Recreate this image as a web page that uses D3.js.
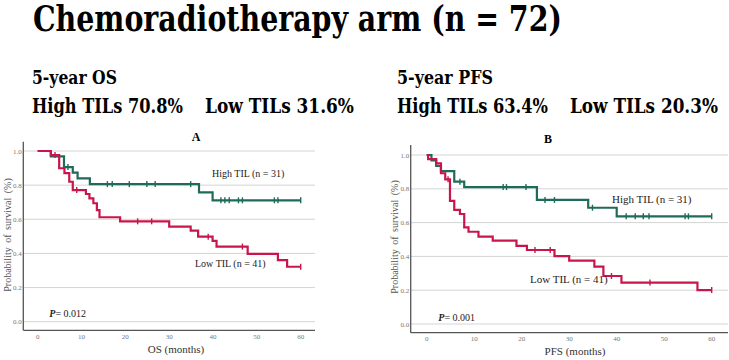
<!DOCTYPE html>
<html>
<head>
<meta charset="utf-8">
<script src="https://cdn.jsdelivr.net/npm/d3@7"></script>
<style>
  body { margin: 0; background: #fff; }
</style>
</head>
<body>
<div id="content"></div>
<script>
// ---- data ----
var yTicks = [0, 0.2, 0.4, 0.6, 0.8, 1.0];
var xTicks = [0, 10, 20, 30, 40, 50, 60];

// panel A: overall survival
var osHighTimes = [0, 3, 6, 8, 9.1, 11.9, 36.8, 39.9, 60];
var osHighSurv  = [1, 0.968, 0.906, 0.873, 0.84, 0.806, 0.758, 0.711, 0.711];
var osHighCensor = [6.9, 15.9, 17, 20.9, 24.9, 26.8, 34.9, 41.8, 42.7, 43.7, 45.8, 46.7, 54, 54.8, 60];

var osLowTimes = [0, 3, 4.9, 6.1, 7.2, 8, 11, 11.8, 12.7, 13.5, 14.1, 18.8, 30, 34.9, 36.6, 39.9, 40.8, 47.9, 54.8, 56.9, 60];
var osLowSurv  = [1, 0.976, 0.899, 0.87, 0.82, 0.771, 0.748, 0.723, 0.694, 0.654, 0.612, 0.588, 0.557, 0.533, 0.498, 0.473, 0.44, 0.397, 0.361, 0.322, 0.322];
var osLowCensor = [3.95, 8.9, 22.8, 26, 38.9, 46.7, 60];

// panel B: progression-free survival
var pfsHighTimes = [0, 1, 2, 3, 5.8, 7.9, 23.2, 34, 40, 60];
var pfsHighSurv  = [1, 0.968, 0.935, 0.905, 0.842, 0.81, 0.734, 0.688, 0.637, 0.637];
var pfsHighCensor = [7, 16.1, 16.8, 20.9, 24.9, 26.9, 34.9, 42, 43.9, 45.6, 46.8, 54.4, 55.1, 60];

var pfsLowTimes = [0, 0.3, 2, 3, 3.9, 4.9, 5.8, 7, 7.9, 8.8, 10.9, 13.9, 18.9, 21.1, 26.9, 30, 35.3, 37.2, 41, 57, 60];
var pfsLowSurv  = [1, 0.976, 0.951, 0.892, 0.856, 0.728, 0.675, 0.651, 0.572, 0.546, 0.517, 0.493, 0.462, 0.438, 0.402, 0.375, 0.339, 0.284, 0.245, 0.201, 0.201];
var pfsLowCensor = [4.5, 22.8, 26, 38.9, 47, 60];

var green = "#1f6b5a", red = "#c8164c";
var serif = "'Liberation Serif', 'Times New Roman', Times, 'DejaVu Serif', serif";
var boldSerif = "'DejaVu Serif Condensed', 'DejaVu Serif', serif";

var svg = d3.select("div#content").append("svg")
    .attr("width", 729)
    .attr("height", 360)
    .attr("font-family", serif)
    .style("font-family", serif)
    .style("display", "block");

// ---- headings ----
// bold serif is wider here than in the figure: shrink the font to the
// wanted width and stretch it back vertically to the wanted height
function heading(x, y, size, w, txt) {
    var t = svg.append("text")
        .attr("font-size", size).attr("font-weight", "bold")
        .attr("font-family", boldSerif).style("font-family", boldSerif)
        .text(txt);
    var natural = t.node().getComputedTextLength();
    var k = Math.min(1, w / natural);
    t.attr("font-size", size * k)
        .attr("transform", "translate(" + x + "," + y + ") scale(1," + (1 / k) + ")");
}
heading(33, 31, 35, 529, "Chemoradiotherapy arm (n = 72)");
heading(32, 84, 18, 85, "5-year OS");
heading(32, 113, 21, 151, "High TILs 70.8%");
heading(205, 113, 21, 149, "Low TILs  31.6%");
heading(397, 84, 18, 96, "5-year PFS");
heading(397, 113, 21, 151, "High TILs 63.4%");
heading(570, 113, 21, 148, "Low TILs  20.3%");

function toPoints(times, surv) {
    return times.map(function(t, i) { return {t: t, s: surv[i]}; });
}

function stepAt(times, surv, t) {
    var v = surv[0];
    for (var i = 0; i < times.length; i++) {
        if (times[i] <= t) v = surv[i];
    }
    return v;
}

function panel(cfg) {
    var g = svg.append("g");

    var x = d3.scaleLinear().domain([0, 60]).range([cfg.x0, cfg.x1]);
    var y = d3.scaleLinear().domain([0, 1]).range([cfg.y0, cfg.y1]);

    // grid
    g.selectAll(".grid")
        .data(yTicks)
        .enter().append("line")
        .attr("x1", cfg.left).attr("x2", cfg.right)
        .attr("y1", function(d) { return y(d); })
        .attr("y2", function(d) { return y(d); })
        .attr("stroke", "#d4d4d4").attr("stroke-width", 1);

    // axes lines
    g.append("line")
        .attr("x1", cfg.left).attr("x2", cfg.left)
        .attr("y1", cfg.top).attr("y2", cfg.bottom)
        .attr("stroke", "#555").attr("stroke-width", 1.3);
    g.append("line")
        .attr("x1", cfg.left).attr("x2", cfg.right)
        .attr("y1", cfg.bottom).attr("y2", cfg.bottom)
        .attr("stroke", "#555").attr("stroke-width", 1.3);

    // tick labels
    g.selectAll(".ylab")
        .data(yTicks)
        .enter().append("text")
        .attr("x", cfg.left - 1.5)
        .attr("y", function(d) { return y(d) + 2.5; })
        .attr("text-anchor", "end")
        .attr("font-size", 7).attr("fill", "#777")
        .text(d3.format(".1f"));
    g.selectAll(".xlab")
        .data(xTicks)
        .enter().append("text")
        .attr("x", function(d) { return x(d); })
        .attr("y", cfg.bottom + 8.5)
        .attr("text-anchor", "middle")
        .attr("font-size", 7).attr("fill", "#777")
        .text(function(d) { return d; });

    // axis titles
    g.append("text")
        .attr("transform", "translate(" + cfg.ylabX + "," + cfg.ylabY + ") rotate(-90)")
        .attr("text-anchor", "middle")
        .attr("font-size", 10).attr("fill", "#555")
        .attr("word-spacing", 2)
        .text("Probability of survival (%)");
    g.append("text")
        .attr("x", cfg.xlabX).attr("y", cfg.xlabY)
        .attr("text-anchor", "middle")
        .attr("font-size", 11).attr("fill", "#333")
        .text(cfg.xlab);

    // panel letter
    g.append("text")
        .attr("x", cfg.letterX).attr("y", cfg.letterY)
        .attr("text-anchor", "middle")
        .attr("font-size", 12).attr("font-weight", "bold")
        .text(cfg.letter);

    var line = d3.line()
        .x(function(d) { return x(d.t); })
        .y(function(d) { return y(d.s); })
        .curve(d3.curveStepAfter);

    cfg.curves.forEach(function(c) {
        g.append("path")
            .datum(toPoints(c.times, c.surv))
            .attr("d", line)
            .attr("fill", "none")
            .attr("stroke", c.color)
            .attr("stroke-width", 2.2);

        g.selectAll(null)
            .data(c.censor)
            .enter().append("line")
            .attr("x1", function(d) { return x(d); })
            .attr("x2", function(d) { return x(d); })
            .attr("y1", function(d) { return y(stepAt(c.times, c.surv, d)) - 3; })
            .attr("y2", function(d) { return y(stepAt(c.times, c.surv, d)) + 3; })
            .attr("stroke", c.color)
            .attr("stroke-width", 1.4);

        g.append("text")
            .attr("x", c.labX).attr("y", c.labY)
            .attr("font-size", cfg.labSize).attr("fill", "#222")
            .text(c.label);
    });

    // p value
    var p = g.append("text")
        .attr("x", cfg.pX).attr("y", cfg.pY)
        .attr("font-size", 10).attr("fill", "#222");
    p.append("tspan").attr("font-style", "italic").attr("font-weight", "bold").text("P");
    p.append("tspan").text("= " + cfg.p);
}

panel({
    left: 23.3, right: 315, top: 141.7, bottom: 330.3,
    x0: 37.7, x1: 300.7, y0: 321.7, y1: 151,
    ylabX: 11, ylabY: 235, xlab: "OS (months)", xlabX: 176, xlabY: 353,
    letter: "A", letterX: 196, letterY: 140.7,
    labSize: 10, p: "0.012", pX: 49.3, pY: 317.3,
    curves: [
        {times: osHighTimes, surv: osHighSurv, censor: osHighCensor, color: green,
         label: "High TIL (n = 31)", labX: 212, labY: 176.5},
        {times: osLowTimes, surv: osLowSurv, censor: osLowCensor, color: red,
         label: "Low TIL (n = 41)", labX: 195, labY: 266.5}
    ]
});

panel({
    left: 410.7, right: 728, top: 145, bottom: 332.7,
    x0: 426.7, x1: 711.7, y0: 324, y1: 155,
    ylabX: 398, ylabY: 237, xlab: "PFS (months)", xlabX: 575, xlabY: 355,
    letter: "B", letterX: 548, letterY: 143,
    labSize: 11, p: "0.001", pX: 438.3, pY: 320.7,
    curves: [
        {times: pfsHighTimes, surv: pfsHighSurv, censor: pfsHighCensor, color: green,
         label: "High TIL (n = 31)", labX: 612, labY: 203.3},
        {times: pfsLowTimes, surv: pfsLowSurv, censor: pfsLowCensor, color: red,
         label: "Low TIL (n = 41)", labX: 530, labY: 282.7}
    ]
});
</script>
</body>
</html>
